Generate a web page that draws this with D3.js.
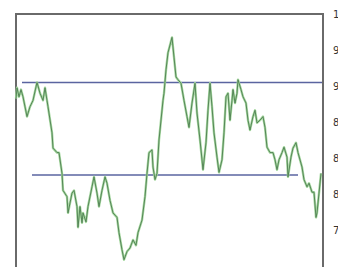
<!DOCTYPE html>
<html>
<head>
<meta charset="utf-8">
<script src="https://cdn.jsdelivr.net/npm/d3@7"></script>
<style>
  body { margin: 0; background: #fff; }
  svg { display: block; }
</style>
</head>
<body>
<svg id="chart" width="338" height="267"></svg>
<script>
// price trace, [day, price]
var days = [0,1,3,5,7,11,14,17,21,24,27,29,31,32,36,37,41,43,46,47,51,52,56,58,61,62,64,66,67,70,
  72,76,78,81,83,86,89,91,94,97,101,103,106,108,111,114,117,120,122,126,129,131,133,136,137,139,141,143,147,148,
  150,152,156,158,160,162,165,168,171,173,176,179,181,184,187,190,192,194,196,198,201,203,206,208,210,212,214,216,217,219,
  221,222,225,227,230,232,234,237,239,241,244,247,249,251,254,257,259,261,263,266,268,271,272,275,277,280,282,286,288,291,
  293,296,298,300,301,303,305];
var prices = [90.6,91.8,90.8,91.6,90.8,88.6,89.7,90.4,92.4,91.2,90.4,91.8,90.4,89.7,86.8,85.1,84.6,84.6,82.3,80.4,79.7,77.9,80.1,80.4,78.6,76.3,78.6,76.8,77.9,76.9,
  78.6,80.8,81.9,80.1,78.6,80.4,81.9,81.2,79.3,77.9,77.4,75.7,73.8,72.7,73.6,74.0,74.9,74.3,75.7,77.1,79.7,82.3,84.6,84.9,83.0,81.6,82.3,86.0,90.4,91.2,
  93.8,95.7,97.4,95.2,93.0,92.7,92.3,90.4,88.6,87.4,90.1,92.3,89.0,86.0,82.7,85.7,89.3,92.3,89.7,86.8,84.1,82.4,83.8,86.8,90.8,91.2,88.2,90.4,91.6,90.1,
  91.2,92.7,91.6,90.8,90.1,88.2,87.1,88.6,89.3,87.9,88.2,88.6,87.4,85.2,84.6,84.6,83.8,82.7,83.8,84.6,85.2,84.1,81.9,84.1,85.1,85.7,84.6,83.0,81.6,80.8,
  81.2,80.2,80.2,77.4,77.9,80.1,82.3];

// horizontal levels: price, first day, last day
var levels = [92.4, 82.1];
var levelStart = [6, 16];
var levelEnd = [306, 282];

var tickValues = [100, 96, 92, 88, 84, 80, 76];

var svg = d3.select("#chart");

var x = d3.scaleLinear().domain([0, 307]).range([16, 323]),
    y = d3.scaleLinear().domain([100, 72]).range([14, 266]);

// frame
svg.append("path")
   .attr("d", "M" + x(0) + "," + 267 + "V" + 14 + "H" + x(307) + "V" + 267)
   .attr("fill", "none")
   .attr("stroke", "#6a6a6a")
   .attr("stroke-width", 2);

// right price axis, labels only (cut by the window edge)
var axis = d3.axisRight(y)
  .tickValues(tickValues)
  .tickSize(0)
  .tickPadding(10);

var g = svg.append("g")
  .attr("transform", "translate(" + x(307) + ",0)")
  .call(axis);
g.select(".domain").remove();
g.selectAll("text")
  .attr("fill", "#333")
  .style("font-family", "DejaVu Sans, sans-serif")
  .style("font-size", "10px");

// level lines
levels.forEach(function(v, i) {
  svg.append("line")
    .attr("x1", x(levelStart[i]))
    .attr("x2", x(levelEnd[i]))
    .attr("y1", y(v))
    .attr("y2", y(v))
    .attr("stroke", "#5a64a0")
    .attr("stroke-width", 1.5);
});

// price line
var pts = days.map(function(d, i) { return [d, prices[i]]; });
var line = d3.line()
  .x(function(d) { return x(d[0]); })
  .y(function(d) { return y(d[1]); });

svg.append("path")
  .datum(pts)
  .attr("d", line)
  .attr("fill", "none")
  .attr("stroke", "#a6d8a0")
  .attr("stroke-width", 2.4)
  .attr("stroke-linejoin", "round");

svg.append("path")
  .datum(pts)
  .attr("d", line)
  .attr("fill", "none")
  .attr("stroke", "#4d7d50")
  .attr("stroke-width", 0.9)
  .attr("stroke-linejoin", "round");
</script>
</body>
</html>
